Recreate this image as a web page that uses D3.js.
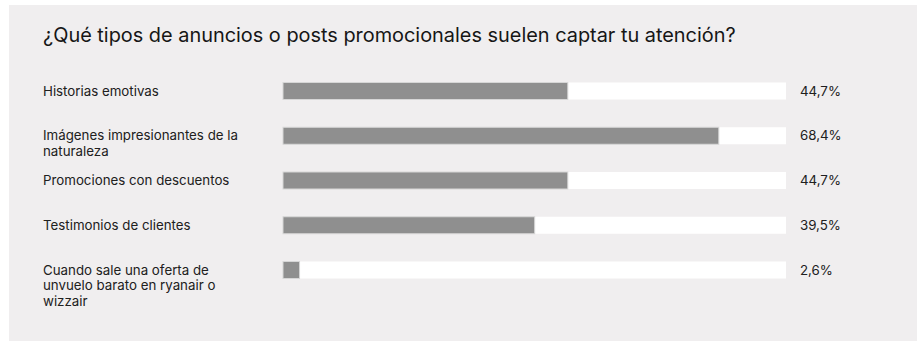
<!DOCTYPE html>
<html lang="es">
<head>
  <meta charset="UTF-8">
  <title>¿Qué tipos de anuncios o posts promocionales suelen captar tu atención?</title>
  <script src="https://d3js.org/d3.v7.min.js"></script>
  <style>
    body {
      margin: 0;
      padding: 0;
      background: #ffffff;
      font-family: Inter, "Noto Sans", Arial, sans-serif;
    }
    svg { display: block; }
    .title { font-size: 19.9px; fill: #161616; }
    .label { font-size: 13.3px; fill: #202020; }
    .value { font-size: 13.3px; fill: #202020; }
  </style>
</head>
<body>
  <div id="chart"></div>

  <script>
    const title = "¿Qué tipos de anuncios o posts promocionales suelen captar tu atención?";
    const categories = [
      "Historias emotivas",
      "Imágenes impresionantes de la naturaleza",
      "Promociones con descuentos",
      "Testimonios de clientes",
      "Cuando sale una oferta de unvuelo barato en ryanair o wizzair"
    ];
    const values = [44.7, 68.4, 44.7, 39.5, 2.6];
    const valueLabels = ["44,7%", "68,4%", "44,7%", "39,5%", "2,6%"];
    // the track runs to 30 of 38 answers
    const scaleMax = 30 / 38 * 100;

    const W = 920, H = 341;

    const svg = d3.select("#chart")
      .append("svg")
      .attr("width", W)
      .attr("height", H);

    // panel
    svg.append("rect")
      .attr("x", 9).attr("y", 5)
      .attr("width", 908).attr("height", H - 5)
      .attr("fill", "#f0eeef");

    svg.append("text")
      .attr("class", "title")
      .attr("x", 43)
      .attr("y", 42)
      .text(title);

    const x = d3.scaleLinear()
      .domain([0, scaleMax])
      .range([283, 786]);

    const y = d3.scalePoint()
      .domain(categories)
      .range([91, 270]);

    const barH = 17;

    const rows = svg.selectAll(".row")
      .data(categories)
      .enter()
      .append("g")
      .attr("class", "row");

    // background track
    rows.append("rect")
      .attr("x", x(0))
      .attr("y", d => y(d) - barH / 2)
      .attr("width", x(scaleMax) - x(0))
      .attr("height", barH)
      .attr("fill", "#ffffff");

    // value bar
    rows.append("rect")
      .attr("x", x(0))
      .attr("y", (d) => y(d) - barH / 2)
      .attr("width", (d, i) => x(values[i]) - x(0))
      .attr("height", barH)
      .attr("fill", "#8f8f8f")
      .attr("stroke", "#d6d6d6")
      .attr("stroke-width", 1);

    rows.append("text")
      .attr("class", "value")
      .attr("x", 800)
      .attr("y", d => y(d))
      .attr("dy", "0.35em")
      .text((d, i) => valueLabels[i]);

    const labels = rows.append("text")
      .attr("class", "label")
      .attr("x", 43)
      .attr("y", d => y(d))
      .attr("dy", "0.35em")
      .text(d => d);

    labels.call(wrap, 200);

    function wrap(sel, maxW) {
      sel.each(function () {
        const t = d3.select(this);
        const words = t.text().split(/\s+/);
        const x0 = t.attr("x"), y0 = t.attr("y");
        t.text(null);
        let line = [];
        let lineNo = 0;
        let span = t.append("tspan").attr("x", x0).attr("y", y0).attr("dy", "0.35em");
        words.forEach(w => {
          line.push(w);
          span.text(line.join(" "));
          if (span.node().getComputedTextLength() > maxW && line.length > 1) {
            line.pop();
            span.text(line.join(" "));
            line = [w];
            lineNo++;
            span = t.append("tspan")
              .attr("x", x0)
              .attr("y", +y0 + lineNo * 15.5)
              .attr("dy", "0.35em")
              .text(w);
          }
        });
      });
    }
  </script>
</body>
</html>
